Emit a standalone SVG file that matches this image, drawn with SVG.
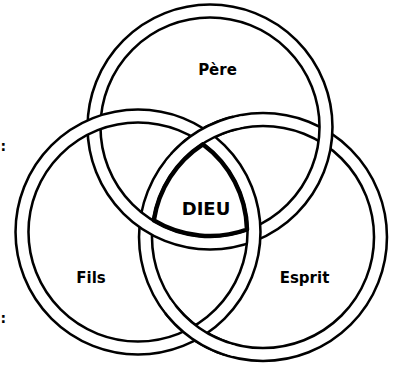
<svg xmlns="http://www.w3.org/2000/svg" width="398" height="370" viewBox="0 0 398 370">
  <style>
    .rb { fill: none; stroke: #000; stroke-width: 15.5; }
    .rw { fill: none; stroke: #fff; stroke-width: 10.4; }
    .lbl { font-family: "DejaVu Sans", Verdana, sans-serif; font-weight: bold; fill: #000; text-anchor: middle; }
    .mark { font-family: "DejaVu Sans", Verdana, sans-serif; font-weight: bold; fill: #000; text-anchor: start; }
    .core { fill: none; stroke: #000; stroke-width: 4.5; stroke-linejoin: round; }
  </style>
  <rect width="398" height="370" fill="#fff"/>
  <g id="connectors">
    <g id="ring-esprit">
      <circle class="rb" cx="263" cy="237" r="117.5"/>
      <circle class="rw" cx="263" cy="237" r="117.5"/>
    </g>
    <g id="ring-pere">
      <circle class="rb" cx="210" cy="127" r="116"/>
      <circle class="rw" cx="210" cy="127" r="116"/>
    </g>
    <g id="ring-fils">
      <circle class="rb" cx="138" cy="232" r="116"/>
      <circle class="rw" cx="138" cy="232" r="116"/>
    </g>
    <g id="ring-esprit-over">
      <path class="rb" d="M175.69,158.38 A117.5,117.5 0 0 1 234.57,122.99"/>
      <path class="rw" d="M170.41,164.66 A117.5,117.5 0 0 1 242.60,121.28"/>
      <path class="rb" d="M226.69,348.75 A117.5,117.5 0 0 1 170.41,309.34"/>
      <path class="rw" d="M234.57,351.01 A117.5,117.5 0 0 1 165.59,302.70"/>
    </g>
  </g>
  <g id="node-dieu">
    <path class="core" d="M202.8,144.3 A109,109 0 0 1 247,229.5 A109,109 0 0 1 153.8,220.4 A110.5,110.5 0 0 1 202.8,144.3 Z"/>
    <text class="lbl" x="206" y="215" font-size="18">DIEU</text>
  </g>
  <g id="node-pere">
    <text class="lbl" x="217.5" y="75" font-size="15">Père</text>
  </g>
  <g id="node-fils">
    <text class="lbl" x="91" y="283" font-size="15">Fils</text>
  </g>
  <g id="node-esprit">
    <text class="lbl" x="304.5" y="283" font-size="15">Esprit</text>
  </g>
  <g id="edge-marks">
    <text class="mark" x="0.5" y="151" font-size="14">:</text>
    <text class="mark" x="0.5" y="323" font-size="14">:</text>
  </g>
</svg>
